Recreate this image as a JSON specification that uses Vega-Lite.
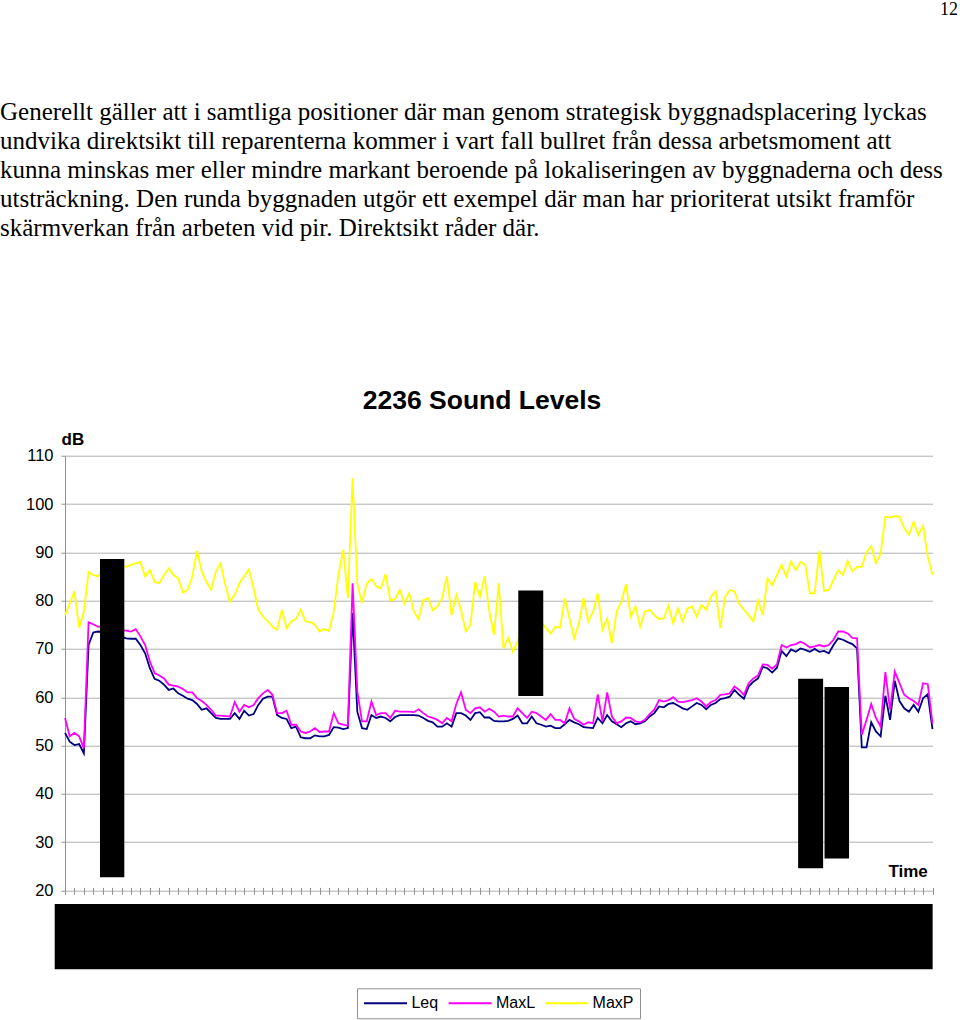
{
"$schema": "https://vega.github.io/schema/vega-lite/v6.json",
"autosize": "none",
"width": 867.5,
"height": 434.7,
"padding": {"left": 65, "top": 455.7, "right": 27.5, "bottom": 129.6},
"background": "white",
"config": {"view": {"stroke": null}, "font": "Liberation Sans"},
"datasets": {
"levels": [
{"t":0,"Leq":52.6,"MaxL":55.7,"MaxP":77.0},{"t":1,"Leq":50.8,"MaxL":51.9,"MaxP":79.4},{"t":2,"Leq":50.1,"MaxL":52.6,"MaxP":81.9},{"t":3,"Leq":50.3,"MaxL":51.9,"MaxP":74.4},{"t":4,"Leq":48.4,"MaxL":49.4,"MaxP":77.7},
{"t":5,"Leq":70.8,"MaxL":75.5,"MaxP":85.9},{"t":6,"Leq":73.4,"MaxL":75.1,"MaxP":85.3},{"t":7,"Leq":73.6,"MaxL":74.6,"MaxP":85.0},{"t":8,"Leq":73.5,"MaxL":74.5,"MaxP":86.5},{"t":9,"Leq":73.4,"MaxL":74.3,"MaxP":87.5},
{"t":10,"Leq":73.2,"MaxL":74.2,"MaxP":86.8},{"t":11,"Leq":72.9,"MaxL":74.0,"MaxP":87.8},{"t":12,"Leq":72.5,"MaxL":73.9,"MaxP":87.2},{"t":13,"Leq":72.2,"MaxL":73.8,"MaxP":87.0},{"t":14,"Leq":72.1,"MaxL":73.6,"MaxP":87.4},
{"t":15,"Leq":72.1,"MaxL":74.1,"MaxP":87.7},{"t":16,"Leq":70.8,"MaxL":72.6,"MaxP":88.0},{"t":17,"Leq":69.1,"MaxL":70.8,"MaxP":85.0},{"t":18,"Leq":66.0,"MaxL":67.4,"MaxP":86.3},{"t":19,"Leq":63.8,"MaxL":65.0,"MaxP":83.9},
{"t":20,"Leq":63.4,"MaxL":64.5,"MaxP":83.6},{"t":21,"Leq":62.6,"MaxL":63.9,"MaxP":85.3},{"t":22,"Leq":61.5,"MaxL":62.6,"MaxP":86.7},{"t":23,"Leq":61.8,"MaxL":62.4,"MaxP":85.3},{"t":24,"Leq":60.8,"MaxL":62.2,"MaxP":84.6},
{"t":25,"Leq":60.3,"MaxL":61.7,"MaxP":81.7},{"t":26,"Leq":59.7,"MaxL":61.0,"MaxP":82.2},{"t":27,"Leq":59.4,"MaxL":61.0,"MaxP":85.0},{"t":28,"Leq":58.6,"MaxL":59.8,"MaxP":90.3},{"t":29,"Leq":57.4,"MaxL":59.2,"MaxP":86.0},
{"t":30,"Leq":57.7,"MaxL":58.4,"MaxP":83.9},{"t":31,"Leq":56.7,"MaxL":57.4,"MaxP":82.2},{"t":32,"Leq":55.7,"MaxL":56.2,"MaxP":86.0},{"t":33,"Leq":55.5,"MaxL":56.2,"MaxP":87.7},{"t":34,"Leq":55.5,"MaxL":56.1,"MaxP":83.2},
{"t":35,"Leq":55.5,"MaxL":56.0,"MaxP":79.8},{"t":36,"Leq":56.7,"MaxL":59.0,"MaxP":81.2},{"t":37,"Leq":55.5,"MaxL":57.0,"MaxP":83.6},{"t":38,"Leq":57.2,"MaxL":58.4,"MaxP":85.0},{"t":39,"Leq":56.2,"MaxL":57.9,"MaxP":86.5},
{"t":40,"Leq":56.5,"MaxL":58.4,"MaxP":82.6},{"t":41,"Leq":58.4,"MaxL":59.8,"MaxP":78.1},{"t":42,"Leq":59.7,"MaxL":60.8,"MaxP":76.7},{"t":43,"Leq":60.1,"MaxL":61.5,"MaxP":75.7},{"t":44,"Leq":60.1,"MaxL":60.5,"MaxP":74.6},
{"t":45,"Leq":56.3,"MaxL":56.7,"MaxP":73.9},{"t":46,"Leq":55.7,"MaxL":56.7,"MaxP":78.1},{"t":47,"Leq":55.5,"MaxL":57.2,"MaxP":74.3},{"t":48,"Leq":53.6,"MaxL":54.3,"MaxP":75.7},{"t":49,"Leq":53.9,"MaxL":54.3,"MaxP":76.2},
{"t":50,"Leq":51.7,"MaxL":52.9,"MaxP":78.1},{"t":51,"Leq":51.5,"MaxL":52.6,"MaxP":75.7},{"t":52,"Leq":51.5,"MaxL":52.9,"MaxP":75.6},{"t":53,"Leq":52.1,"MaxL":53.6,"MaxP":75.0},{"t":54,"Leq":51.9,"MaxL":52.8,"MaxP":73.6},
{"t":55,"Leq":51.9,"MaxL":52.9,"MaxP":74.1},{"t":56,"Leq":52.2,"MaxL":52.9,"MaxP":73.7},{"t":57,"Leq":53.8,"MaxL":56.7,"MaxP":77.7},{"t":58,"Leq":53.7,"MaxL":54.6,"MaxP":85.3},{"t":59,"Leq":53.4,"MaxL":54.3,"MaxP":90.5},
{"t":60,"Leq":53.6,"MaxL":54.1,"MaxP":80.5},{"t":61,"Leq":77.4,"MaxL":83.6,"MaxP":105.4},{"t":62,"Leq":57.0,"MaxL":61.2,"MaxP":83.5},{"t":63,"Leq":53.6,"MaxL":55.0,"MaxP":79.5},{"t":64,"Leq":53.4,"MaxL":55.0,"MaxP":83.5},
{"t":65,"Leq":56.3,"MaxL":59.1,"MaxP":84.5},{"t":66,"Leq":55.7,"MaxL":56.3,"MaxP":83.0},{"t":67,"Leq":56.0,"MaxL":56.7,"MaxP":82.5},{"t":68,"Leq":55.7,"MaxL":56.7,"MaxP":85.5},{"t":69,"Leq":55.0,"MaxL":55.7,"MaxP":80.0},
{"t":70,"Leq":55.9,"MaxL":57.2,"MaxP":80.3},{"t":71,"Leq":56.3,"MaxL":57.0,"MaxP":82.2},{"t":72,"Leq":56.3,"MaxL":57.0,"MaxP":79.4},{"t":73,"Leq":56.3,"MaxL":57.0,"MaxP":81.5},{"t":74,"Leq":56.3,"MaxL":56.9,"MaxP":77.7},
{"t":75,"Leq":56.2,"MaxL":57.5,"MaxP":76.2},{"t":76,"Leq":55.7,"MaxL":56.7,"MaxP":80.1},{"t":77,"Leq":55.1,"MaxL":56.0,"MaxP":80.5},{"t":78,"Leq":54.8,"MaxL":55.7,"MaxP":78.0},{"t":79,"Leq":53.9,"MaxL":55.3,"MaxP":78.8},
{"t":80,"Leq":53.9,"MaxL":54.6,"MaxP":80.5},{"t":81,"Leq":54.6,"MaxL":55.7,"MaxP":85.0},{"t":82,"Leq":53.9,"MaxL":55.0,"MaxP":77.0},{"t":83,"Leq":56.7,"MaxL":58.6,"MaxP":81.2},{"t":84,"Leq":56.7,"MaxL":61.0,"MaxP":78.1},
{"t":85,"Leq":56.2,"MaxL":57.4,"MaxP":73.6},{"t":86,"Leq":55.3,"MaxL":56.7,"MaxP":75.0},{"t":87,"Leq":56.7,"MaxL":57.7,"MaxP":83.9},{"t":88,"Leq":56.9,"MaxL":57.9,"MaxP":80.8},{"t":89,"Leq":55.8,"MaxL":57.0,"MaxP":85.0},
{"t":90,"Leq":55.8,"MaxL":57.6,"MaxP":77.7},{"t":91,"Leq":55.1,"MaxL":57.0,"MaxP":72.9},{"t":92,"Leq":55.0,"MaxL":56.0,"MaxP":83.6},{"t":93,"Leq":55.0,"MaxL":56.2,"MaxP":70.1},{"t":94,"Leq":55.1,"MaxL":56.0,"MaxP":72.3},
{"t":95,"Leq":55.5,"MaxL":56.0,"MaxP":69.4},{"t":96,"Leq":56.2,"MaxL":57.7,"MaxP":71.5},{"t":97,"Leq":54.6,"MaxL":56.7,"MaxP":74.0},{"t":98,"Leq":54.6,"MaxL":55.7,"MaxP":72.5},{"t":99,"Leq":56.0,"MaxL":57.0,"MaxP":76.0},
{"t":100,"Leq":54.6,"MaxL":56.7,"MaxP":74.5},{"t":101,"Leq":54.3,"MaxL":56.0,"MaxP":75.6},{"t":102,"Leq":53.9,"MaxL":55.3,"MaxP":74.3},{"t":103,"Leq":54.1,"MaxL":56.5,"MaxP":73.2},{"t":104,"Leq":53.6,"MaxL":55.3,"MaxP":74.6},
{"t":105,"Leq":53.6,"MaxL":55.3,"MaxP":74.4},{"t":106,"Leq":54.4,"MaxL":54.6,"MaxP":80.5},{"t":107,"Leq":55.3,"MaxL":57.7,"MaxP":76.3},{"t":108,"Leq":54.8,"MaxL":55.5,"MaxP":72.2},{"t":109,"Leq":54.4,"MaxL":55.0,"MaxP":75.3},
{"t":110,"Leq":53.8,"MaxL":54.3,"MaxP":80.5},{"t":111,"Leq":53.7,"MaxL":54.8,"MaxP":75.7},{"t":112,"Leq":53.6,"MaxL":54.6,"MaxP":77.7},{"t":113,"Leq":55.7,"MaxL":60.6,"MaxP":81.5},{"t":114,"Leq":54.6,"MaxL":55.0,"MaxP":73.9},
{"t":115,"Leq":56.3,"MaxL":61.0,"MaxP":76.3},{"t":116,"Leq":55.0,"MaxL":56.0,"MaxP":71.2},{"t":117,"Leq":54.4,"MaxL":54.6,"MaxP":77.7},{"t":118,"Leq":53.8,"MaxL":55.0,"MaxP":79.8},{"t":119,"Leq":54.6,"MaxL":55.8,"MaxP":83.4},
{"t":120,"Leq":55.0,"MaxL":55.7,"MaxP":76.7},{"t":121,"Leq":54.4,"MaxL":55.0,"MaxP":78.8},{"t":122,"Leq":54.6,"MaxL":54.8,"MaxP":74.6},{"t":123,"Leq":55.0,"MaxL":55.3,"MaxP":77.7},{"t":124,"Leq":56.0,"MaxL":56.5,"MaxP":78.1},
{"t":125,"Leq":56.7,"MaxL":57.4,"MaxP":77.0},{"t":126,"Leq":58.1,"MaxL":59.4,"MaxP":76.2},{"t":127,"Leq":57.9,"MaxL":59.1,"MaxP":76.3},{"t":128,"Leq":58.6,"MaxL":59.4,"MaxP":79.0},{"t":129,"Leq":58.8,"MaxL":60.0,"MaxP":75.3},
{"t":130,"Leq":58.3,"MaxL":59.1,"MaxP":78.4},{"t":131,"Leq":57.7,"MaxL":59.0,"MaxP":75.7},{"t":132,"Leq":57.4,"MaxL":59.2,"MaxP":78.4},{"t":133,"Leq":58.1,"MaxL":59.4,"MaxP":78.8},{"t":134,"Leq":58.8,"MaxL":59.8,"MaxP":76.7},
{"t":135,"Leq":58.4,"MaxL":59.1,"MaxP":79.1},{"t":136,"Leq":57.5,"MaxL":58.1,"MaxP":78.1},{"t":137,"Leq":58.4,"MaxL":59.0,"MaxP":80.8},{"t":138,"Leq":58.8,"MaxL":59.4,"MaxP":81.9},{"t":139,"Leq":59.6,"MaxL":60.5,"MaxP":74.3},
{"t":140,"Leq":59.8,"MaxL":60.6,"MaxP":80.8},{"t":141,"Leq":60.1,"MaxL":60.8,"MaxP":82.2},{"t":142,"Leq":61.5,"MaxL":62.2,"MaxP":81.9},{"t":143,"Leq":60.5,"MaxL":61.5,"MaxP":79.4},{"t":144,"Leq":59.7,"MaxL":60.5,"MaxP":78.1},
{"t":145,"Leq":62.2,"MaxL":62.9,"MaxP":77.0},{"t":146,"Leq":63.2,"MaxL":63.9,"MaxP":75.7},{"t":147,"Leq":63.9,"MaxL":64.5,"MaxP":80.1},{"t":148,"Leq":66.3,"MaxL":66.8,"MaxP":77.0},{"t":149,"Leq":66.0,"MaxL":66.7,"MaxP":84.6},
{"t":150,"Leq":65.1,"MaxL":65.9,"MaxP":83.2},{"t":151,"Leq":66.1,"MaxL":66.8,"MaxP":85.3},{"t":152,"Leq":69.6,"MaxL":70.8,"MaxP":87.4},{"t":153,"Leq":68.5,"MaxL":70.3,"MaxP":85.0},{"t":154,"Leq":69.9,"MaxL":70.8,"MaxP":88.1},
{"t":155,"Leq":69.4,"MaxL":71.0,"MaxP":86.3},{"t":156,"Leq":70.1,"MaxL":71.5,"MaxP":88.0},{"t":157,"Leq":69.8,"MaxL":71.0,"MaxP":87.4},{"t":158,"Leq":69.4,"MaxL":70.3,"MaxP":81.5},{"t":159,"Leq":70.0,"MaxL":70.5,"MaxP":81.5},
{"t":160,"Leq":69.4,"MaxL":70.8,"MaxP":90.3},{"t":161,"Leq":69.6,"MaxL":70.5,"MaxP":82.0},{"t":162,"Leq":69.1,"MaxL":70.8,"MaxP":82.2},{"t":163,"Leq":70.8,"MaxL":71.9,"MaxP":84.3},{"t":164,"Leq":72.2,"MaxL":73.6,"MaxP":86.3},
{"t":165,"Leq":71.9,"MaxL":73.6,"MaxP":85.3},{"t":166,"Leq":71.4,"MaxL":73.2,"MaxP":88.2},{"t":167,"Leq":71.0,"MaxL":72.3,"MaxP":86.1},{"t":168,"Leq":70.1,"MaxL":72.2,"MaxP":87.0},{"t":169,"Leq":49.6,"MaxL":52.2,"MaxP":87.0},
{"t":170,"Leq":49.6,"MaxL":55.3,"MaxP":90.0},{"t":171,"Leq":54.8,"MaxL":58.6,"MaxP":91.3},{"t":172,"Leq":52.9,"MaxL":55.7,"MaxP":87.7},{"t":173,"Leq":51.9,"MaxL":53.9,"MaxP":89.8},{"t":174,"Leq":60.3,"MaxL":65.2,"MaxP":97.4},
{"t":175,"Leq":55.3,"MaxL":57.4,"MaxP":97.2},{"t":176,"Leq":63.4,"MaxL":65.3,"MaxP":97.5},{"t":177,"Leq":59.2,"MaxL":62.9,"MaxP":97.4},{"t":178,"Leq":57.7,"MaxL":60.5,"MaxP":95.0},{"t":179,"Leq":57.0,"MaxL":59.8,"MaxP":93.6},
{"t":180,"Leq":58.4,"MaxL":59.2,"MaxP":96.3},{"t":181,"Leq":57.0,"MaxL":58.4,"MaxP":93.6},{"t":182,"Leq":59.8,"MaxL":62.9,"MaxP":95.5},{"t":183,"Leq":60.6,"MaxL":62.7,"MaxP":89.1},{"t":184,"Leq":53.4,"MaxL":54.6,"MaxP":85.3}
],
"redactions": [
{"x1":7.42,"x2":12.58,"y1":22.7,"y2":88.6},
{"x1":96.14,"x2":101.44,"y1":60.25,"y2":82.1},
{"x1":155.5,"x2":160.8,"y1":24.6,"y2":63.8},
{"x1":161.1,"x2":166.3,"y1":26.6,"y2":62.1},
{"x1":-2.18,"x2":184.03,"y1":3.7,"y2":17.2}
]
},
"layer": [
{
"data": {"name": "levels"},
"transform": [{"fold": ["Leq", "MaxL", "MaxP"], "as": ["series", "dB"]}],
"mark": {"type": "line", "strokeWidth": 1.8, "clip": false},
"encoding": {
"x": {"field": "t", "type": "quantitative", "scale": {"domain": [0, 184], "nice": false, "zero": false},
"axis": {"title": "Time", "titleFont": "Liberation Sans", "titleFontSize": 17, "titleFontWeight": "bold", "titleColor": "black", "titleAngle": 0, "titleX": 862.3, "titleY": -10.7, "titleAlign": "right", "titleBaseline": "alphabetic", "labels": false, "ticks": true, "domain": false, "offset": -3, "tickCount": 200, "values": [0,2,4,6,8,10,12,14,16,18,20,22,24,26,28,30,32,34,36,38,40,42,44,46,48,50,52,54,56,58,60,62,64,66,68,70,72,74,76,78,80,82,84,86,88,90,92,94,96,98,100,102,104,106,108,110,112,114,116,118,120,122,124,126,128,130,132,134,136,138,140,142,144,146,148,150,152,154,156,158,160,162,164,166,168,170,172,174,176,178,180,182,184], "tickSize": 7, "tickWidth": 1, "tickColor": "#909090", "grid": false}},
"y": {"field": "dB", "type": "quantitative", "scale": {"domain": [20, 110], "nice": false, "zero": false},
"axis": {"title": "dB", "titleFont": "Liberation Sans", "titleFontSize": 17, "titleFontWeight": "bold", "titleColor": "black", "titleAngle": 0, "titleX": -4, "titleY": -11.7, "titleAlign": "left", "titleBaseline": "alphabetic", "values": [20, 30, 40, 50, 60, 70, 80, 90, 100, 110], "labelFont": "Liberation Sans", "labelFontSize": 16.5, "labelColor": "black", "labelPadding": 8, "labelFlush": false, "tickSize": 4, "tickColor": "#909090", "domainColor": "#909090", "grid": true, "gridColor": "#b0b0b0"}},
"color": {"field": "series", "type": "nominal", "scale": {"domain": ["Leq", "MaxL", "MaxP"], "range": ["#000080", "#ff00ff", "#ffff00"]},
"legend": {"orient": "none", "legendX": 292, "legendY": 532.6, "direction": "horizontal", "title": null, "strokeColor": "#909090", "fillColor": "white", "padding": 6, "symbolType": "stroke", "symbolSize": 1849, "symbolStrokeWidth": 2, "clipHeight": 18, "labelFont": "Liberation Sans", "labelFontSize": 16, "labelColor": "black", "labelOffset": 3.4, "columnPadding": 8.6}}
}
},
{
"data": {"name": "redactions"},
"mark": {"type": "rect", "color": "black", "clip": false},
"encoding": {
"x": {"field": "x1", "type": "quantitative", "scale": {"domain": [0, 184], "nice": false, "zero": false}},
"x2": {"field": "x2"},
"y": {"field": "y1", "type": "quantitative", "scale": {"domain": [20, 110], "nice": false, "zero": false}},
"y2": {"field": "y2"}
}
},
{
"data": {"values": [{}]},
"mark": {"type": "text", "text": ["Generellt gäller att i samtliga positioner där man genom strategisk byggnadsplacering lyckas", "undvika direktsikt till reparenterna kommer i vart fall bullret från dessa arbetsmoment att", "kunna minskas mer eller mindre markant beroende på lokaliseringen av byggnaderna och dess", "utsträckning. Den runda byggnaden utgör ett exempel där man har prioriterat utsikt framför", "skärmverkan från arbeten vid pir. Direktsikt råder där."], "font": "Liberation Serif", "fontSize": 25, "lineHeight": 29, "align": "left", "baseline": "alphabetic", "color": "black"},
"encoding": {
"x": {"datum": -13.787, "type": "quantitative", "scale": {"domain": [0, 184], "nice": false, "zero": false}},
"y": {"datum": 179.5, "type": "quantitative", "scale": {"domain": [20, 110], "nice": false, "zero": false}}
}
},
{
"data": {"values": [{}]},
"mark": {"type": "text", "text": "12", "font": "Liberation Serif", "fontSize": 18, "align": "right", "baseline": "alphabetic", "color": "black"},
"encoding": {
"x": {"datum": 189.4, "type": "quantitative", "scale": {"domain": [0, 184], "nice": false, "zero": false}},
"y": {"datum": 201.2, "type": "quantitative", "scale": {"domain": [20, 110], "nice": false, "zero": false}}
}
},
{
"data": {"values": [{}]},
"mark": {"type": "text", "text": "2236 Sound Levels", "font": "Liberation Sans", "fontSize": 26.5, "fontWeight": "bold", "align": "center", "baseline": "alphabetic", "color": "black"},
"encoding": {
"x": {"datum": 88.45, "type": "quantitative", "scale": {"domain": [0, 184], "nice": false, "zero": false}},
"y": {"datum": 119.7, "type": "quantitative", "scale": {"domain": [20, 110], "nice": false, "zero": false}}
}
}
]
}
